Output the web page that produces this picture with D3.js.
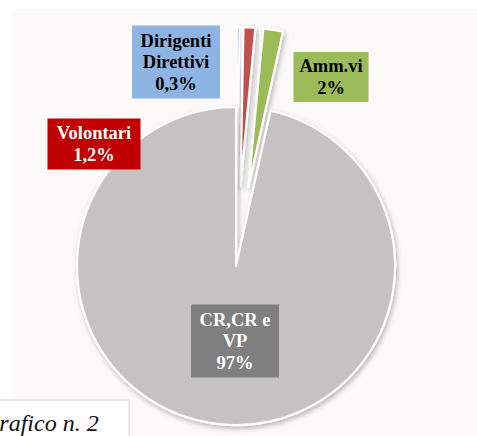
<!DOCTYPE html>
<html>
<head>
<meta charset="utf-8">
<script src="https://cdn.jsdelivr.net/npm/d3@7"></script>
<style>
  html, body { margin: 0; padding: 0; background: #fff; }
  svg { display: block; }
</style>
</head>
<body>
<svg width="477" height="436"></svg>
<script>
// dati del grafico
const categories = ["Dirigenti Direttivi", "Volontari", "Amm.vi", "CR,CR e VP"];
const values = [0.3, 1.2, 2, 97];
const valueLabels = ["0,3%", "1,2%", "2%", "97%"];
const labelLines = [["Dirigenti", "Direttivi", "0,3%"], ["Volontari", "1,2%"], ["Amm.vi", "2%"], ["CR,CR e", "VP", "97%"]];
const colors = ["#8eb4e3", "#c0504d", "#9bbb59", "#c4c3c1"];
const boxColors = ["#8eb4e3", "#c00000", "#9bbb59", "#7f7f7f"];
const textColors = ["#000", "#fff", "#000", "#fff"];
const exploded = [true, true, true, false];

const svg = d3.select("svg");
const width = +svg.attr("width");
const height = +svg.attr("height");

// sfondo
svg.append("rect").attr("x", 12).attr("y", 9)
    .attr("width", width - 12).attr("height", height - 9)
    .attr("fill", "#fbfaf8");

const defs = svg.append("defs");
const f = defs.append("filter").attr("id", "shadow")
    .attr("x", "-20%").attr("y", "-20%").attr("width", "140%").attr("height", "140%");
f.append("feDropShadow").attr("dx", 1.5).attr("dy", 2.5).attr("stdDeviation", 2.5)
    .attr("flood-color", "#000").attr("flood-opacity", 0.28);

const cx = 236, cy = 266;
const radius = 159;
const explode = 80;

const pie = d3.pie().sort(null).value(d => d);
const piedata = pie(values);

const arc = d3.arc().innerRadius(0).outerRadius(radius);

const g = svg.append("g").attr("transform", "translate(" + cx + "," + cy + ")");

g.selectAll("path")
    .data(piedata)
    .enter()
    .append("path")
    .attr("transform", function (d, i) {
        if (!exploded[i]) return null;
        const a = (d.startAngle + d.endAngle) / 2;
        return "translate(" + (Math.sin(a) * explode) + "," + (-Math.cos(a) * explode) + ")";
    })
    .attr("d", arc)
    .attr("fill", (d, i) => colors[i])
    .attr("stroke", "#fff")
    .attr("stroke-width", 2.2)
    .attr("stroke-linejoin", "round")
    .attr("filter", "url(#shadow)");

// posizione delle etichette (centro del riquadro)
const labelPos = [[176, 62], [94, 144], [331, 77], [235, 341]];
const boxSize = [[88, 73], [93, 51], [75, 50], [88, 73]];
const fontsize = 18.5;
const lineH = 21.5;

const labels = svg.selectAll("g.label")
    .data(piedata)
    .enter()
    .append("g")
    .attr("class", "label")
    .attr("transform", (d, i) => "translate(" + labelPos[i][0] + "," + labelPos[i][1] + ")");

labels.append("rect")
    .attr("x", (d, i) => -boxSize[i][0] / 2)
    .attr("y", (d, i) => -boxSize[i][1] / 2)
    .attr("width", (d, i) => boxSize[i][0])
    .attr("height", (d, i) => boxSize[i][1])
    .attr("fill", (d, i) => boxColors[i]);

labels.each(function (d, i) {
    const lines = labelLines[i];
    const t = d3.select(this).append("text")
        .attr("text-anchor", "middle")
        .attr("font-family", "'Liberation Serif', 'Times New Roman', serif")
        .attr("font-weight", "bold")
        .attr("font-size", fontsize)
        .attr("fill", textColors[i]);
    lines.forEach(function (s, k) {
        t.append("tspan")
            .attr("x", 0)
            .attr("y", (k - (lines.length - 1) / 2) * lineH + 6)
            .text(s);
    });
});

// didascalia (tagliata a sinistra come nell'originale)
svg.append("rect").attr("x", -1).attr("y", 400).attr("width", 130).attr("height", 40)
    .attr("fill", "#fff").attr("stroke", "#d6d6d6").attr("stroke-width", 1);
svg.append("text").attr("x", -18).attr("y", 431)
    .attr("font-family", "'Liberation Serif', 'Times New Roman', serif")
    .attr("font-style", "italic").attr("font-size", 24).attr("fill", "#111")
    .text("Grafico n. 2");
</script>
</body>
</html>
